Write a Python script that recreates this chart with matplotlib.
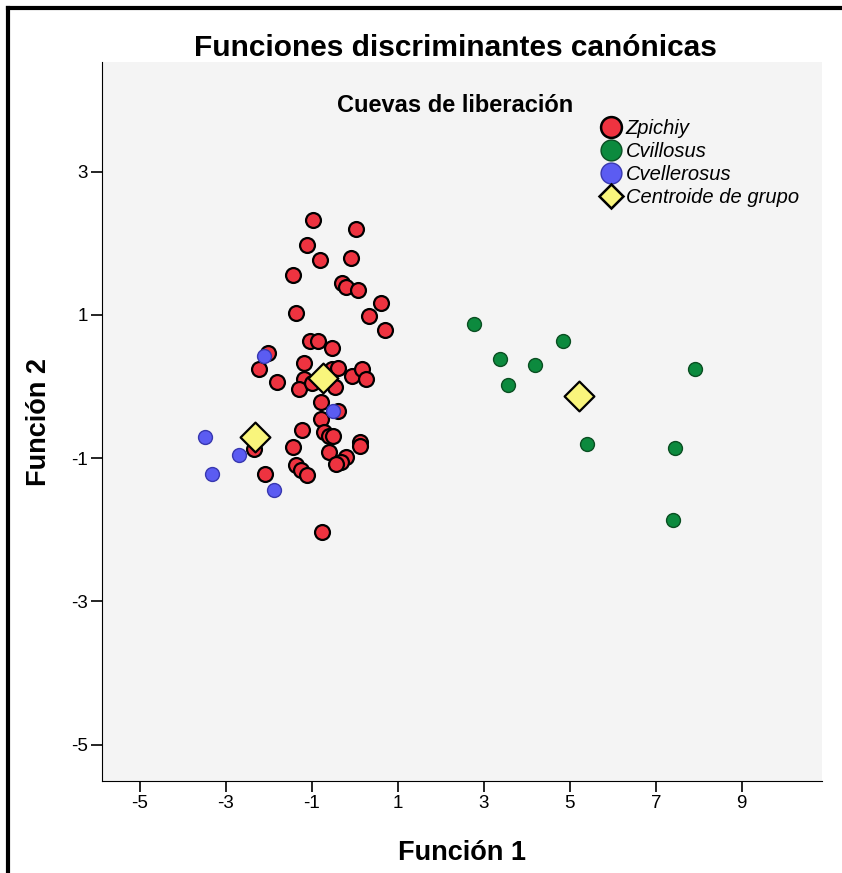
import numpy as np
import matplotlib as mpl
import matplotlib.pyplot as plt
from matplotlib.lines import Line2D

mpl.rc('font', family=['Liberation Sans', 'DejaVu Sans'])
mpl.rc('axes', unicode_minus=False)

# Puntuaciones discriminantes por grupo
zpichiy_f1 = [-0.98, 0.04, -1.10, -0.08, -0.80, -1.43, -0.29, -0.20, 0.08, 0.62,
              -1.36, 0.32, 0.71, -1.05, -0.85, -0.54, -2.01, -2.22, -1.17, -1.80,
              -1.17, -1.29, -0.99, -0.54, -0.40, -0.47, -0.06, 0.18, 0.27, -0.78,
              -0.38, -0.78, -1.22, -0.71, -0.59, -0.50, 0.13, 0.13, -1.43, -2.35,
              -0.61, -0.20, -0.31, -0.43, -1.36, -1.24, -1.12, -2.08, -0.75]
zpichiy_f2 = [2.33, 2.20, 1.97, 1.79, 1.76, 1.55, 1.44, 1.39, 1.35, 1.17,
              1.03, 0.99, 0.79, 0.63, 0.64, 0.54, 0.47, 0.24, 0.33, 0.07,
              0.10, -0.03, 0.05, 0.25, 0.26, 0.00, 0.15, 0.24, 0.11, -0.22,
              -0.34, -0.45, -0.60, -0.64, -0.69, -0.69, -0.77, -0.83, -0.84, -0.87,
              -0.91, -0.99, -1.06, -1.08, -1.09, -1.17, -1.24, -1.22, -2.03]

cvillosus_f1 = [2.78, 4.84, 3.38, 4.19, 3.57, 7.91, 5.40, 7.44, 7.40]
cvillosus_f2 = [0.88, 0.63, 0.38, 0.30, 0.02, 0.25, -0.80, -0.86, -1.86]

cvellerosus_f1 = [-2.10, -0.50, -3.49, -2.68, -3.31, -1.87]
cvellerosus_f2 = [0.42, -0.34, -0.71, -0.95, -1.22, -1.45]

centroide_f1 = [-0.73, 5.22, -2.31]
centroide_f2 = [0.12, -0.13, -0.71]

ticks = [-5, -3, -1, 1, 3, 5, 7, 9]
yticks = [3, 1, -1, -3, -5]

fig = plt.figure(figsize=(8.42, 8.73), dpi=100)
ax = fig.add_axes([0.121, 0.105, 0.855, 0.824])
ax.set_facecolor('#f4f4f4')

ax.scatter(zpichiy_f1, zpichiy_f2, s=115, c='#ee3340', edgecolors='black', linewidths=1.6, zorder=3)
ax.scatter(cvillosus_f1, cvillosus_f2, s=100, c='#0c8a3e', edgecolors='#0a4f22', linewidths=1.0, zorder=3)
ax.scatter(cvellerosus_f1, cvellerosus_f2, s=100, c='#5b5cf2', edgecolors='#3838b0', linewidths=1.0, zorder=4)
ax.scatter(centroide_f1, centroide_f2, s=230, marker='D', c='#f9f57c', edgecolors='black', linewidths=1.6, zorder=5)

ax.set_xlim(-5.88, 10.86)
ax.set_ylim(-5.51, 4.53)
ax.set_xticks(ticks)
ax.set_yticks(yticks)
ax.tick_params(direction='out', length=8, width=1.2, labelsize=13.5, pad=2)
ax.spines['top'].set_visible(False)
ax.spines['right'].set_visible(False)

ax.set_xlabel('Función 1', fontsize=19.5, fontweight='bold', labelpad=20)
ax.set_ylabel('Función 2', fontsize=19.5, fontweight='bold', labelpad=14)

fig.text(0.541, 0.945, 'Funciones discriminantes canónicas', ha='center', va='center',
         fontsize=21.5, fontweight='bold')
fig.text(0.541, 0.879, 'Cuevas de liberación', ha='center', va='center',
         fontsize=17, fontweight='bold')

handles = [
    Line2D([], [], ls='none', marker='o', ms=15, mfc='#ee3340', mec='black', mew=1.8),
    Line2D([], [], ls='none', marker='o', ms=15, mfc='#0c8a3e', mec='#0a4f22', mew=1.0),
    Line2D([], [], ls='none', marker='o', ms=15, mfc='#5b5cf2', mec='#3838b0', mew=1.0),
    Line2D([], [], ls='none', marker='D', ms=12, mfc='#f9f57c', mec='black', mew=1.8),
]
labels = ['Zpichiy', 'Cvillosus', 'Cvellerosus', 'Centroide de grupo']
leg = ax.legend(handles, labels, loc='upper left', bbox_to_anchor=(0.68, 0.932), frameon=False,
                prop={'style': 'italic', 'size': 14.5}, handletextpad=0.2, labelspacing=0.2,
                handlelength=1.1, borderaxespad=0)

# marco de la figura
fig.add_artist(Line2D([0.0095, 0.0095], [0.0, 0.991], color='black', lw=3))
fig.add_artist(Line2D([0.0095, 1.0], [0.991, 0.991], color='black', lw=3))

fig.savefig('out.png', dpi=100)
